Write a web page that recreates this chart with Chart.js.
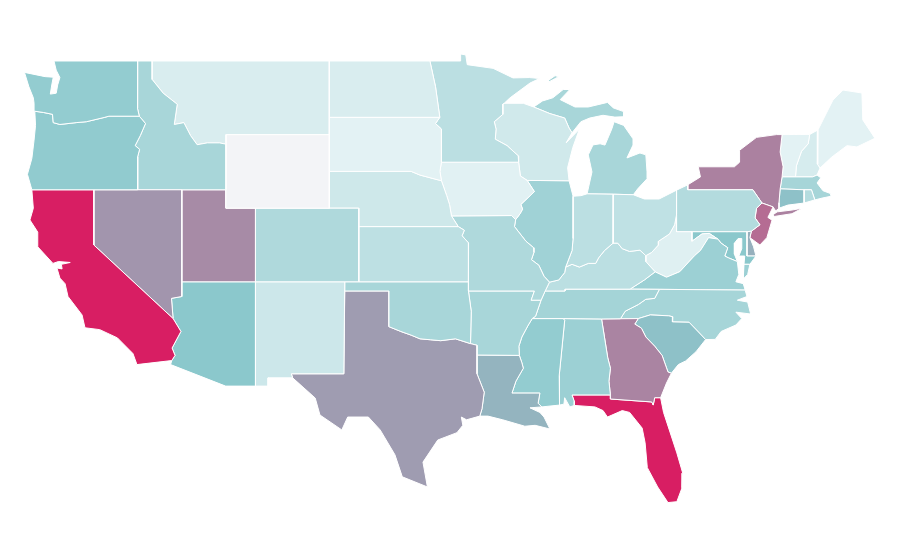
<!DOCTYPE html>
<html>
<head>
<meta charset="utf-8">
<title>US states</title>
<script src="https://cdn.jsdelivr.net/npm/chart.js@4/dist/chart.umd.min.js"></script>
<style>
  html, body { margin: 0; padding: 0; background: #fff; }
  #wrap { width: 900px; height: 560px; }
</style>
</head>
<body>
<div id="wrap"><canvas id="map" width="900" height="560"></canvas></div>
<script>
// state outlines, [lon, lat]
var WA = [[-122.7,49],[-117.03,49],[-117.04,46.42],[-116.92,46],[-118.98,46],[-119.3,45.93],[-120.5,45.7],[-121.2,45.65],[-122.3,45.55],[-122.75,45.65],[-122.8,46.1],[-123.4,46.2],[-124,46.27],[-124.05,46.7],[-124.1,47],[-124.4,47.6],[-124.7,48.38],[-123.3,48.15],[-122.75,48.12],[-122.85,47.7],[-122.95,47.2],[-122.55,47.25],[-122.45,47.7],[-122.3,48.1],[-122.55,48.5],[-122.7,49]]
var OR = [[-124,46.27],[-123.4,46.2],[-122.8,46.1],[-122.75,45.65],[-122.3,45.55],[-121.2,45.65],[-120.5,45.7],[-119.3,45.93],[-118.98,46],[-116.92,46],[-116.5,45.6],[-116.85,44.95],[-117.2,44.4],[-116.9,44.2],[-117.03,43.8],[-117.03,42],[-124.2,42],[-124.5,42.84],[-124.2,43.7],[-124.05,44.7],[-123.95,45.5],[-124,46.27]]
var CA = [[-124.2,42],[-120,42],[-120,39],[-114.63,35],[-114.1,34.3],[-114.7,33.4],[-114.5,33],[-114.72,32.72],[-117.08,32.5],[-117.35,33.1],[-118.4,33.95],[-119.6,34.4],[-120.6,34.5],[-120.8,35.2],[-121.75,36.2],[-121.95,36.9],[-122.3,37.2],[-122.5,37.75],[-122.15,37.7],[-122.2,37.95],[-121.6,38.05],[-122.4,38.1],[-122.77,38],[-123.8,38.9],[-123.8,39.7],[-124.33,40.36],[-124.1,41],[-124.2,42]]
var NV = [[-120,42],[-114.04,42],[-114.04,36.2],[-114.74,36.1],[-114.63,35],[-120,39],[-120,42]]
var ID = [[-117.03,49],[-116.05,49],[-116.05,48],[-115.3,47.25],[-114.35,46.65],[-114.55,45.55],[-113.9,45.65],[-113.45,44.95],[-113,44.45],[-112.3,44.55],[-111.5,44.55],[-111.05,44.48],[-111.05,42],[-117.03,42],[-117.03,43.8],[-116.9,44.2],[-117.2,44.4],[-116.85,44.95],[-116.5,45.6],[-116.92,46],[-117.04,46.42],[-117.03,49]]
var MT = [[-116.05,49],[-104.05,49],[-104.05,45],[-111.05,45],[-111.05,44.48],[-111.5,44.55],[-112.3,44.55],[-113,44.45],[-113.45,44.95],[-113.9,45.65],[-114.55,45.55],[-114.35,46.65],[-115.3,47.25],[-116.05,48],[-116.05,49]]
var WY = [[-111.05,45],[-104.05,45],[-104.05,41],[-111.05,41],[-111.05,45]]
var UT = [[-114.04,42],[-111.05,42],[-111.05,41],[-109.05,41],[-109.05,37],[-114.04,37],[-114.04,42]]
var CO = [[-109.05,41],[-102.05,41],[-102.05,37],[-109.05,37],[-109.05,41]]
var AZ = [[-114.04,37],[-109.05,37],[-109.05,31.33],[-111.07,31.33],[-114.8,32.5],[-114.72,32.72],[-114.5,33],[-114.7,33.4],[-114.1,34.3],[-114.63,35],[-114.74,36.1],[-114.04,36.2],[-114.04,37]]
var NM = [[-109.05,37],[-103,37],[-103.06,32],[-106.62,32],[-106.53,31.78],[-108.2,31.78],[-108.2,31.33],[-109.05,31.33],[-109.05,37]]
var ND = [[-104.05,49],[-97.23,49],[-96.85,47.6],[-96.56,45.94],[-104.05,45.94],[-104.05,49]]
var SD = [[-104.05,45.94],[-96.56,45.94],[-96.85,45.6],[-96.45,45.3],[-96.45,43.5],[-96.55,43],[-96.45,42.49],[-97.9,42.8],[-98.5,43],[-104.05,43],[-104.05,45.94]]
var NE = [[-104.05,43],[-98.5,43],[-97.9,42.8],[-96.45,42.49],[-96.1,41.7],[-95.9,41.2],[-95.77,40.58],[-95.31,40],[-102.05,40],[-102.05,41],[-104.05,41],[-104.05,43]]
var KS = [[-102.05,40],[-95.31,40],[-94.9,39.8],[-95.05,39.5],[-94.61,39.11],[-94.62,37],[-102.05,37],[-102.05,40]]
var OK = [[-103,37],[-94.62,37],[-94.62,36.5],[-94.43,35.4],[-94.48,33.64],[-95.5,33.9],[-96.5,33.8],[-97.2,33.85],[-97.9,33.9],[-98.5,34.1],[-99.2,34.3],[-100,34.56],[-100,36.5],[-103,36.5],[-103,37]]
var TX = [[-103,36.5],[-100,36.5],[-100,34.56],[-99.2,34.3],[-98.5,34.1],[-97.9,33.9],[-97.2,33.85],[-96.5,33.8],[-95.5,33.9],[-94.48,33.64],[-94.04,33.55],[-94.04,32],[-93.55,31],[-93.7,30.1],[-93.85,29.7],[-94.75,29.5],[-95.1,29.65],[-95,29.2],[-95.4,28.8],[-96.7,28.4],[-97.7,27.2],[-97.4,25.85],[-99.1,26.4],[-99.6,27.6],[-100.6,28.95],[-101.4,29.65],[-102.8,29.65],[-103.2,28.95],[-104.68,29.76],[-105,30.68],[-106.53,31.78],[-106.62,32],[-103.06,32],[-103,36.5]]
var MN = [[-97.23,49],[-95.15,49],[-95.15,49.38],[-94.8,49.33],[-94.7,48.8],[-92.95,48.6],[-91.6,48.08],[-90.5,48.1],[-89.8,48.05],[-90.45,47.8],[-91.8,47],[-92.2,46.7],[-92.29,46.66],[-92.29,46.1],[-92.87,45.7],[-92.75,45.3],[-92.8,44.75],[-92,44.4],[-91.25,43.85],[-91.22,43.5],[-96.45,43.5],[-96.45,45.3],[-96.85,45.6],[-96.56,45.94],[-96.85,47.6],[-97.23,49]]
var IA = [[-96.45,43.5],[-91.22,43.5],[-91.1,42.75],[-90.64,42.51],[-90.15,41.9],[-91.07,41.2],[-90.95,40.95],[-91.12,40.7],[-91.42,40.38],[-91.7,40.6],[-95.77,40.58],[-95.9,41.2],[-96.1,41.7],[-96.45,42.49],[-96.55,43],[-96.45,43.5]]
var MO = [[-95.77,40.58],[-91.7,40.6],[-91.42,40.38],[-91.5,40],[-90.72,39.2],[-90.2,38.85],[-90.18,38.6],[-90.35,38.2],[-89.85,37.9],[-89.5,37.3],[-89.13,36.98],[-89.42,36.5],[-89.7,36],[-90.37,36],[-90.15,36.5],[-94.62,36.5],[-94.62,37],[-94.61,39.11],[-95.05,39.5],[-94.9,39.8],[-95.31,40],[-95.77,40.58]]
var AR = [[-94.62,36.5],[-90.15,36.5],[-90.37,36],[-89.7,36],[-90.07,35.13],[-90.3,35],[-90.6,34.6],[-91,34],[-91.2,33.5],[-91.17,33],[-94.04,33.02],[-94.04,33.55],[-94.48,33.64],[-94.43,35.4],[-94.62,36.5]]
var LA = [[-94.04,33.02],[-91.17,33],[-91,32.6],[-90.9,32.3],[-91.4,31.6],[-91.67,30.95],[-89.78,30.95],[-89.9,30.4],[-89.65,30.2],[-90.45,30.15],[-89.78,29.9],[-89.5,29.65],[-89.1,29],[-90.1,29.2],[-90.8,29.15],[-92.3,29.5],[-93.3,29.7],[-93.85,29.7],[-93.7,30.1],[-93.55,31],[-94.04,32],[-94.04,33.02]]
var WI = [[-92.2,46.7],[-90.9,46.7],[-90.2,46.5],[-89.1,46.14],[-88.1,45.9],[-87.8,45.35],[-87.6,45.1],[-88,44.55],[-87.1,45.3],[-87.55,44.3],[-87.9,43.2],[-87.8,42.49],[-90.64,42.51],[-91.1,42.75],[-91.22,43.5],[-91.25,43.85],[-92,44.4],[-92.8,44.75],[-92.75,45.3],[-92.87,45.7],[-92.29,46.1],[-92.29,46.66],[-92.2,46.7]]
var IL = [[-90.64,42.51],[-87.8,42.49],[-87.53,41.65],[-87.53,39.35],[-87.6,38.7],[-88.03,37.8],[-88.1,37.5],[-88.5,37.1],[-89.13,36.98],[-89.5,37.3],[-89.85,37.9],[-90.35,38.2],[-90.18,38.6],[-90.2,38.85],[-90.72,39.2],[-91.5,40],[-91.42,40.38],[-91.12,40.7],[-90.95,40.95],[-91.07,41.2],[-90.15,41.9],[-90.64,42.51]]
var IN = [[-87.53,41.65],[-87,41.68],[-86.58,41.78],[-84.8,41.76],[-84.82,39.1],[-85.4,38.7],[-85.8,38.3],[-86,38],[-86.5,38],[-87.1,37.8],[-87.6,37.95],[-88.03,37.8],[-87.6,38.7],[-87.53,39.35],[-87.53,41.65]]
var OH = [[-84.8,41.76],[-83.45,41.73],[-82.7,41.5],[-81.7,41.5],[-80.52,41.98],[-80.52,40.64],[-80.65,40.1],[-81,39.6],[-81.75,39.2],[-81.75,39],[-82.2,38.6],[-82.6,38.42],[-83,38.72],[-83.7,38.65],[-84.2,38.8],[-84.5,39.1],[-84.82,39.1],[-84.8,41.76]]
var MI_UP = [[-90.2,46.5],[-89.6,46.83],[-88.9,47],[-88.2,47.45],[-87.75,47.45],[-88.4,46.9],[-87.4,46.5],[-86.5,46.5],[-85.2,46.75],[-84.8,46.45],[-84.1,46.25],[-84.1,45.97],[-84.7,45.95],[-85.5,46.05],[-86.4,45.9],[-87,45.7],[-87.6,45.1],[-87.8,45.35],[-88.1,45.9],[-89.1,46.14],[-90.2,46.5]]
var MI_LP = [[-86.58,41.78],[-84.8,41.76],[-83.45,41.73],[-83.15,42.05],[-82.52,42.6],[-82.52,42.97],[-82.6,43.9],[-83,44],[-83.88,43.73],[-83.47,44.43],[-83.47,44.77],[-84.1,45.5],[-84.75,45.7],[-84.9,45.32],[-85.37,44.43],[-85.7,44.5],[-86.18,44.44],[-86.5,43.9],[-86.25,42.97],[-86.58,41.78]]
var MI_IR = [[-89.2,47.85],[-88.5,48.15],[-88.75,48.2],[-89.2,47.95],[-89.2,47.85]]
var KY = [[-89.13,36.98],[-88.5,37.1],[-88.1,37.5],[-88.03,37.8],[-87.6,37.95],[-87.1,37.8],[-86.5,38],[-86,38],[-85.8,38.3],[-85.4,38.7],[-84.82,39.1],[-84.5,39.1],[-84.2,38.8],[-83.7,38.65],[-83,38.72],[-82.6,38.42],[-82.6,38.1],[-81.97,37.54],[-82.7,37.1],[-83.67,36.6],[-88.07,36.6],[-88.07,36.5],[-89.42,36.5],[-89.13,36.98]]
var TN = [[-89.7,36],[-89.42,36.5],[-88.07,36.5],[-88.07,36.6],[-83.67,36.6],[-81.68,36.59],[-82,36.1],[-82.6,36.05],[-83.1,35.77],[-84,35.4],[-84.32,34.99],[-85.6,34.98],[-88.2,35],[-90.3,35],[-90.07,35.13],[-89.7,36]]
var MS = [[-90.3,35],[-88.2,35],[-88.1,34.9],[-88.47,31.9],[-88.45,30.3],[-89.65,30.2],[-89.9,30.4],[-89.78,30.95],[-91.67,30.95],[-91.4,31.6],[-90.9,32.3],[-91,32.6],[-91.17,33],[-91.2,33.5],[-91,34],[-90.6,34.6],[-90.3,35]]
var AL = [[-88.2,35],[-85.6,34.98],[-85.18,32.87],[-85,32.3],[-85.1,31.6],[-85,30.85],[-87.6,30.85],[-87.45,30.5],[-87.45,30.28],[-87.75,30.2],[-88.1,30.7],[-88.15,30.35],[-88.45,30.3],[-88.47,31.9],[-88.1,34.9],[-88.2,35]]
var GA = [[-85.6,34.98],[-83.11,35],[-83.35,34.7],[-82.9,34.48],[-82.6,34],[-82,33.5],[-81.5,33],[-81.1,32.1],[-80.87,32.03],[-81.2,31.5],[-81.6,30.7],[-82,30.7],[-82.1,30.3],[-82.2,30.47],[-85,30.63],[-85,30.85],[-85.1,31.6],[-85,32.3],[-85.18,32.87],[-85.6,34.98]]
var FL = [[-87.6,30.85],[-85,30.85],[-85,30.63],[-82.2,30.47],[-82.1,30.3],[-82,30.7],[-81.6,30.7],[-81.4,29.9],[-80.5,27.7],[-80.1,26.6],[-80.15,25.8],[-80.5,25.05],[-81.1,25],[-81.8,25.85],[-82.5,26.9],[-82.65,28.25],[-82.85,29.05],[-83.7,29.9],[-84.2,30],[-85.2,29.65],[-85.5,30],[-86.05,30.2],[-87.45,30.28],[-87.45,30.5],[-87.6,30.85]]
var SC = [[-83.11,35],[-82.3,35.2],[-81.05,35.15],[-80.78,35.1],[-80.8,34.82],[-79.67,34.8],[-78.55,33.86],[-79.2,33.2],[-79.9,32.7],[-80.4,32.5],[-80.87,32.03],[-81.1,32.1],[-81.5,33],[-82,33.5],[-82.6,34],[-82.9,34.48],[-83.35,34.7],[-83.11,35]]
var NC = [[-81.68,36.59],[-75.87,36.55],[-75.75,36.2],[-76.4,36],[-75.7,35.9],[-75.5,35.25],[-76.5,35.35],[-76.1,35],[-76.5,34.65],[-77.5,34.3],[-77.9,33.87],[-78.55,33.86],[-79.67,34.8],[-80.8,34.82],[-80.78,35.1],[-81.05,35.15],[-82.3,35.2],[-83.11,35],[-84.32,34.99],[-84,35.4],[-83.1,35.77],[-82.6,36.05],[-82,36.1],[-81.68,36.59]]
var VA = [[-83.67,36.6],[-81.68,36.59],[-75.87,36.55],[-76,36.9],[-76.5,37],[-76.3,37.4],[-76.4,38.1],[-77,38.3],[-77.25,38.4],[-77.05,38.85],[-77.5,39.1],[-77.72,39.32],[-78.35,39.4],[-78.9,38.7],[-79.3,38.42],[-80.3,37.55],[-81.2,37.25],[-81.97,37.54],[-82.7,37.1],[-83.67,36.6]]
var VA_ES = [[-75.55,37.95],[-75.95,37.95],[-76,37.15],[-75.7,37.4],[-75.55,37.95]]
var WV = [[-82.6,38.42],[-82.2,38.6],[-81.75,39],[-81.75,39.2],[-81,39.6],[-80.65,40.1],[-80.52,40.64],[-80.52,39.72],[-79.48,39.72],[-79.48,39.2],[-78.8,39.6],[-78.3,39.63],[-77.72,39.32],[-78.35,39.4],[-78.9,38.7],[-79.3,38.42],[-80.3,37.55],[-81.2,37.25],[-81.97,37.54],[-82.6,38.1],[-82.6,38.42]]
var MD = [[-79.48,39.72],[-75.75,39.72],[-75.75,38.4],[-75.14,38.4],[-75.55,37.95],[-75.95,37.95],[-75.9,38.4],[-76.3,38.4],[-76.1,38.8],[-76.1,39.35],[-76.35,39.35],[-76.6,39.1],[-76.6,38.5],[-76.4,38.1],[-77,38.3],[-77.25,38.4],[-77.05,38.85],[-77.5,39.1],[-77.72,39.32],[-78.3,39.63],[-78.8,39.6],[-79.48,39.2],[-79.48,39.72]]
var DE = [[-75.75,39.72],[-75.45,39.75],[-75.55,39.4],[-75.3,38.9],[-75.14,38.4],[-75.75,38.4],[-75.75,39.72]]
var PA = [[-80.52,41.98],[-79.76,42.27],[-79.76,42],[-75.35,42],[-74.73,41.28],[-75.1,41],[-75.2,40.47],[-74.87,40.1],[-75.45,39.75],[-75.75,39.72],[-80.52,39.72],[-80.52,41.98]]
var NJ = [[-74.73,41.28],[-73.98,41.07],[-74.33,40.5],[-74.05,40.35],[-74.4,39.4],[-74.87,39],[-75.55,39.4],[-75.45,39.75],[-74.87,40.1],[-75.2,40.47],[-75.1,41],[-74.73,41.28]]
var NY = [[-79.76,42],[-79.76,42.27],[-78.9,42.7],[-79.05,43.25],[-76.6,43.25],[-76.25,43.5],[-76.25,44.15],[-75.1,44.85],[-73.75,45],[-73.37,45],[-73.5,44.05],[-73.3,43.25],[-73.37,42.7],[-73.5,42.05],[-73.58,41.3],[-73.58,41],[-73.8,40.85],[-73.98,41.07],[-74.73,41.28],[-75.35,42],[-79.76,42]]
var NY_LI = [[-73.98,40.65],[-73.7,40.8],[-72.7,40.9],[-72,41],[-72.7,40.7],[-73.9,40.55],[-73.98,40.65]]
var CT = [[-73.5,42.05],[-71.88,42],[-71.88,41.28],[-72.97,41.17],[-73.58,41],[-73.58,41.3],[-73.5,42.05]]
var RI = [[-71.88,42],[-71.38,42],[-71.15,41.45],[-71.88,41.28],[-71.88,42]]
var MA = [[-73.5,42.05],[-73.37,42.7],[-71.3,42.7],[-71,42.8],[-70.75,42.65],[-71,42.37],[-70.6,41.95],[-70.1,41.8],[-70.05,41.65],[-70.65,41.55],[-71.15,41.45],[-71.38,42],[-71.88,42],[-73.5,42.05]]
var VT = [[-73.37,45],[-71.5,45.01],[-71.6,44.5],[-72.05,44.1],[-72.4,43.3],[-72.46,42.7],[-73.37,42.7],[-73.3,43.25],[-73.5,44.05],[-73.37,45]]
var NH = [[-71.5,45.01],[-70.94,45.25],[-70.98,43.4],[-70.8,43.18],[-71,42.8],[-71.3,42.7],[-72.46,42.7],[-72.4,43.3],[-72.05,44.1],[-71.6,44.5],[-71.5,45.01]]
var ME = [[-70.94,45.25],[-70.26,46.34],[-69.92,46.88],[-69.24,47.42],[-67.96,47.26],[-67.9,45.8],[-67.08,44.8],[-68.3,44.33],[-68.97,44.4],[-70,43.78],[-70.8,43.18],[-70.98,43.4],[-70.94,45.25]]

var stateNames = ['WA','OR','CA','NV','ID','MT','WY','UT','CO','AZ','NM','ND','SD','NE','KS','OK','TX','MN','IA','MO','AR','LA','WI','IL','IN','OH','MI','KY','TN','MS','AL','GA','FL','SC','NC','VA','WV','MD','DE','PA','NJ','NY','CT','RI','MA','VT','NH','ME']
var stateValues = [46,47,100,65,36,13,0,68,33,50,19,13,8,18,26,36,63,27,9,33,36,56,17,40,27,25,36,27,38,46,42,70,100,52,37,42,10,50,57,31,77,71,52,30,37,8,14,8]
var stateShapes = [[WA],[OR],[CA],[NV],[ID],[MT],[WY],[UT],[CO],[AZ],[NM],[ND],[SD],[NE],[KS],[OK],[TX],[MN],[IA],[MO],[AR],[LA],[WI],[IL],[IN],[OH],[MI_UP,MI_LP,MI_IR],[KY],[TN],[MS],[AL],[GA],[FL],[SC],[NC],[VA,VA_ES],[WV],[MD],[DE],[PA],[NJ],[NY,NY_LI],[CT],[RI],[MA],[VT],[NH],[ME]]

// colour axis: pale to teal to crimson
var colorStops = [[0,[243,244,247]],[8,[227,242,244]],[50,[139,200,204]],[100,[216,30,99]]]

function valueColor(v) {
  var i = 0
  while (i < colorStops.length - 2 && v > colorStops[i + 1][0]) i++
  var a = colorStops[i]
  var b = colorStops[i + 1]
  var t = (v - a[0]) / (b[0] - a[0])
  var c = a[1].map(function (n, k) { return Math.round(n + (b[1][k] - n) * t) })
  return 'rgb(' + c.join(',') + ')'
}

var datasets = []
stateNames.forEach(function (name, i) {
  stateShapes[i].forEach(function (outline) {
    datasets.push({
      label: name,
      data: outline.map(function (p) { return { x: p[0], y: p[1] } }),
      showLine: true,
      tension: 0,
      pointRadius: 0,
      borderWidth: 1,
      borderColor: '#fff',
      backgroundColor: valueColor(stateValues[i]),
      fill: 'shape',
    })
  })
})

var ctx = document.getElementById('map').getContext('2d')

new Chart(ctx, {
  type: 'scatter',
  data: { datasets: datasets },
  options: {
    responsive: false,
    animation: false,
    layout: { padding: 0 },
    plugins: {
      legend: { display: false },
      tooltip: { enabled: false },
    },
    scales: {
      x: { type: 'linear', display: false, min: -126.358, max: -65.38 },
      y: { type: 'linear', display: false, min: 21.88, max: 52.315 },
    },
  },
})
</script>
</body>
</html>
